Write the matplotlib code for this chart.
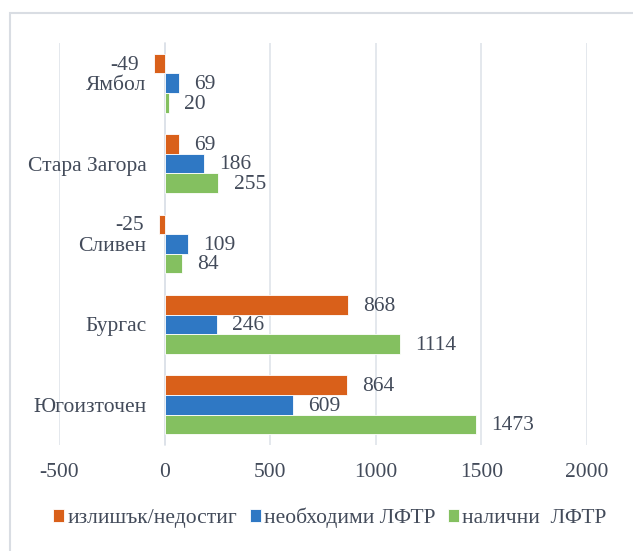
import numpy as np
import matplotlib.pyplot as plt
from matplotlib.patches import Rectangle

# Data (bottom to top as drawn)
regions = ['Югоизточен', 'Бургас', 'Сливен', 'Стара Загора', 'Ямбол']
surplus = [864, 868, -25, 69, -49]
needed = [609, 246, 109, 186, 69]
available = [1473, 1114, 84, 255, 20]
series_names = ['излишък/недостиг', 'необходими ЛФТР', 'налични  ЛФТР']
x_ticks = [-500, 0, 500, 1000, 1500, 2000]

COLORS = ['#D9601A', '#2F78C4', '#84C060']
TEXT = '#434B5A'
GRID = '#DCE1E8'
FS = 15.5

plt.rcParams['font.family'] = ['Liberation Serif', 'DejaVu Serif']

fig = plt.figure(figsize=(6.33, 5.51), dpi=100)
ax = fig.add_axes([59 / 633, 1 - 445 / 551, 528 / 633, 402 / 551])

# chart border (only left and top visible in the crop)
fig.patches.append(Rectangle((10 / 633, -0.05), 1.2, 1.05 - 13.5 / 551,
                             transform=fig.transFigure, fill=False,
                             edgecolor='#D9DDE3', lw=1.5))

y = np.arange(len(regions))
bh = 0.243
offsets = [bh, 0, -bh]
all_series = [surplus, needed, available]

for vals, off, col, name in zip(all_series, offsets, COLORS, series_names):
    bars = ax.barh(y + off, vals, height=bh, color=col, edgecolor='white',
                   linewidth=0.6, label=name, zorder=3)
    for b, v in zip(bars, vals):
        cy = b.get_y() + b.get_height() / 2
        if v >= 0:
            ax.annotate(str(v), (v, cy), xytext=(11, -1), textcoords='offset points',
                        ha='left', va='center', fontsize=FS, color=TEXT)
        else:
            ax.annotate(str(v), (v, cy), xytext=(-11, -1), textcoords='offset points',
                        ha='right', va='center', fontsize=FS, color=TEXT)

ax.set_xlim(-500, 2000)
ax.set_ylim(-0.5, len(regions) - 0.5)
ax.set_xticks(x_ticks)
ax.set_xticklabels([str(t) for t in x_ticks])
ax.set_yticks(y)
ax.set_yticklabels(regions)

# category axis sits at zero
ax.spines['left'].set_position(('data', 0))
ax.spines['left'].set_color(GRID)
ax.spines['left'].set_linewidth(1.1)
ax.spines['left'].set_zorder(2)
for s in ['top', 'right', 'bottom']:
    ax.spines[s].set_visible(False)

ax.grid(axis='x', color=GRID, linewidth=1.1, zorder=0)
ax.tick_params(axis='x', length=0, pad=13, labelsize=FS, labelcolor=TEXT)
ax.tick_params(axis='y', length=0, pad=13, labelsize=FS, labelcolor=TEXT)

fig.legend(loc='center', bbox_to_anchor=(330 / 633, 1 - 518 / 551), ncol=3,
           frameon=False, fontsize=FS, labelcolor=TEXT, handlelength=0.5,
           handleheight=0.5, handletextpad=0.15, columnspacing=0.6)

fig.savefig('out.png', dpi=100)
